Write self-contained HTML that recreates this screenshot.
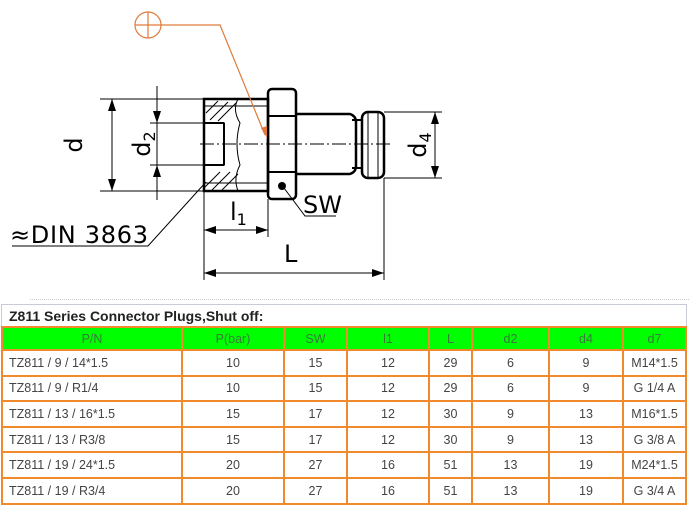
<!DOCTYPE html>
<html><head><meta charset="utf-8"><style>
body{margin:0;width:689px;height:508px;background:#fff;overflow:hidden;position:relative;font-family:"Liberation Sans",Arial,sans-serif}
svg{position:absolute;left:0;top:0}
.tb{position:absolute;left:1px;top:304px;width:684px;border:1px solid #c8ccd8;height:22px}
.tb span{position:absolute;left:7px;top:3px;font-weight:bold;font-size:14px;color:#222}
table{position:absolute;left:1px;top:326px;border-collapse:collapse;font-size:12.5px;color:#444;table-layout:fixed}
td{border:2px solid #f08a2c;height:23.6px;padding:0;text-align:center}
tr.h td{background:#00ff00;color:#3a7a3a;height:21px}
td.l{text-align:left;padding-left:6px}
</style></head><body>
<svg width="689" height="300" viewBox="0 0 689 300" font-family="DejaVu Sans, sans-serif">
<g stroke="#000" fill="none">
<rect x="204" y="99" width="64" height="92" stroke-width="2.5"/>
<line x1="204" y1="123" x2="224" y2="123" stroke-width="2"/>
<line x1="204" y1="165" x2="224" y2="165" stroke-width="2"/>
<line x1="224" y1="123" x2="224" y2="165" stroke-width="2"/>
<line x1="204" y1="106" x2="268" y2="106" stroke-width="1"/>
<line x1="204" y1="183" x2="268" y2="183" stroke-width="1"/>
<path d="M238 99 Q232 110 240 123 Q234 144 240 165 Q233 178 238 191" stroke-width="1"/>
<path d="M206 113 L218 101 M210 120 L228 102 M218 121 L236 103 M204 188 L220 172 M212 190 L230 172 M222 190 L238 174" stroke-width="1"/>
<rect x="268" y="89" width="28" height="110" rx="4" stroke-width="2.5"/>
<line x1="268" y1="116" x2="296" y2="116" stroke-width="2"/>
<line x1="268" y1="172" x2="296" y2="172" stroke-width="2"/>
<path d="M296 114 L350 114 Q356 116 356 122 L356 166 Q356 172 350 174 L296 174" stroke-width="2.5"/>
<path d="M352 120 L362 120 L362 168 L352 168" stroke-width="2"/>
<rect x="362" y="112" width="22" height="66" rx="6" stroke-width="2.5"/>
<line x1="368" y1="112" x2="368" y2="178" stroke-width="1"/>
<line x1="378" y1="112" x2="378" y2="178" stroke-width="1"/>
<line x1="200" y1="144" x2="390" y2="144" stroke-width="1" stroke-dasharray="14,3,2,3"/>
<g stroke-width="1">
<line x1="100" y1="99" x2="204" y2="99"/><line x1="100" y1="191" x2="204" y2="191"/>
<line x1="112" y1="99" x2="112" y2="191"/>
<line x1="150" y1="123" x2="225" y2="123"/><line x1="150" y1="165" x2="225" y2="165"/>
<line x1="157" y1="86" x2="157" y2="200"/>
<line x1="384" y1="112" x2="442" y2="112"/><line x1="384" y1="178" x2="442" y2="178"/>
<line x1="435" y1="112" x2="435" y2="178"/>
<line x1="204" y1="191" x2="204" y2="280"/><line x1="268" y1="199" x2="268" y2="237"/><line x1="384" y1="178" x2="384" y2="280"/>
<line x1="204" y1="230" x2="268" y2="230"/>
<line x1="204" y1="273" x2="384" y2="273"/>
<path d="M12 246 L148 246 L206 182"/>
<path d="M284 188 L305 216 L336 216"/>
</g>
</g>
<g fill="#000">
<path d="M112 99 l-4 12 h8z M112 191 l-4 -12 h8z"/>
<path d="M157 123 l-4 -12 h8z M157 165 l-4 12 h8z"/>
<path d="M435 112 l-4 12 h8z M435 178 l-4 -12 h8z"/>
<path d="M204 230 l12 -4 v8z M268 230 l-12 -4 v8z"/>
<path d="M204 273 l12 -4 v8z M384 273 l-12 -4 v8z"/>
<circle cx="282" cy="186" r="4"/>
</g>
<g stroke="#e07a3a" fill="none" stroke-width="1.2">
<circle cx="148" cy="25" r="13"/>
<line x1="135" y1="25" x2="161" y2="25"/><line x1="148" y1="12" x2="148" y2="38"/>
<path d="M161 25 L220 25 L265 135"/>
</g>
<path d="M267 138 l-6 -10 l6 -2z" fill="#e07a3a"/>
<g font-size="24" fill="#000">
<text x="0" y="0" transform="translate(82 145) rotate(-90)" text-anchor="middle">d</text>
<text x="0" y="0" transform="translate(150 144) rotate(-90)" text-anchor="middle">d<tspan font-size="16" dy="5">2</tspan></text>
<text x="0" y="0" transform="translate(426 145) rotate(-90)" text-anchor="middle">d<tspan font-size="16" dy="5">4</tspan></text>
<text x="230" y="220">l<tspan font-size="16" dy="5">1</tspan></text>
<text x="284" y="262">L</text>
<text x="303" y="213">SW</text>
<text x="10" y="243" textLength="138">≈DIN 3863</text>
</g>
</svg>
<div style="position:absolute;left:30px;top:299px;width:659px;border-top:1px dotted #ccc"></div>
<div class="tb"><span>Z811 Series Connector Plugs,Shut off:</span></div>
<table>
<colgroup><col style="width:180px"><col style="width:102px"><col style="width:63px"><col style="width:82px"><col style="width:43px"><col style="width:77px"><col style="width:74px"><col style="width:63px"></colgroup>
<tr class="h"><td>P/N</td><td>P(bar)</td><td>SW</td><td>l1</td><td>L</td><td>d2</td><td>d4</td><td>d7</td></tr>
<tr><td class="l">TZ811 / 9 / 14*1.5</td><td>10</td><td>15</td><td>12</td><td>29</td><td>6</td><td>9</td><td>M14*1.5</td></tr>
<tr><td class="l">TZ811 / 9 / R1/4</td><td>10</td><td>15</td><td>12</td><td>29</td><td>6</td><td>9</td><td>G 1/4 A</td></tr>
<tr><td class="l">TZ811 / 13 / 16*1.5</td><td>15</td><td>17</td><td>12</td><td>30</td><td>9</td><td>13</td><td>M16*1.5</td></tr>
<tr><td class="l">TZ811 / 13 / R3/8</td><td>15</td><td>17</td><td>12</td><td>30</td><td>9</td><td>13</td><td>G 3/8 A</td></tr>
<tr><td class="l">TZ811 / 19 / 24*1.5</td><td>20</td><td>27</td><td>16</td><td>51</td><td>13</td><td>19</td><td>M24*1.5</td></tr>
<tr><td class="l">TZ811 / 19 / R3/4</td><td>20</td><td>27</td><td>16</td><td>51</td><td>13</td><td>19</td><td>G 3/4 A</td></tr>
</table>
</body></html>
